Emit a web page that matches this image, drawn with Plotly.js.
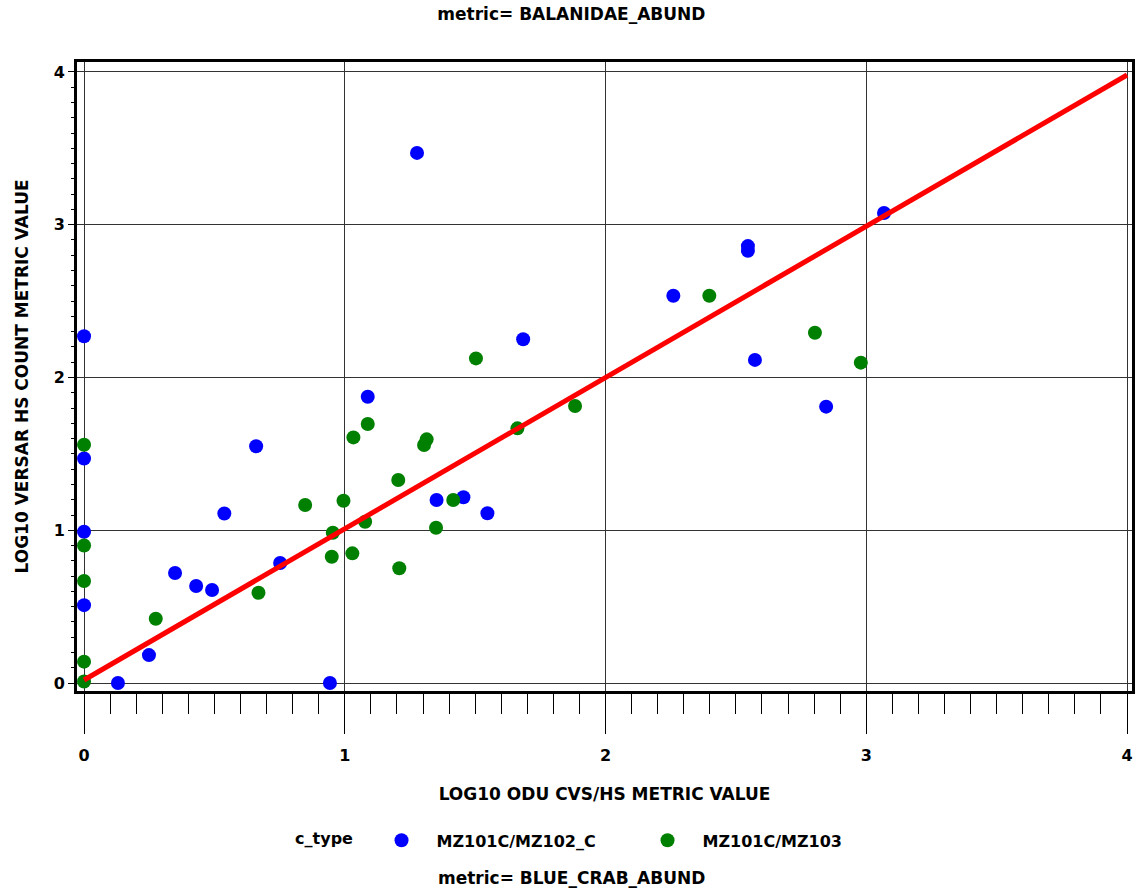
<!DOCTYPE html>
<html>
<head>
<meta charset="utf-8">
<script src="https://cdn.plot.ly/plotly-3.0.1.min.js"></script>
<style>html,body{margin:0;padding:0;background:#fff;}#chart{width:1136px;height:894px;}</style>
</head>
<body>
<div id="chart"></div>
<script>
// MZ101C/MZ102_C (blue)
const blueX = [1.277, 3.068, 2.546, 2.546, 2.26, 0, 1.684, 2.573, 1.088, 2.846, 0.66, 0, 0.538, 1.352, 1.455, 1.547, 0, 0.752, 0.349, 0.43, 0.491, 0, 0.249, 0.13, 0.943];
const blueY = [3.47, 3.077, 2.86, 2.83, 2.535, 2.27, 2.25, 2.115, 1.874, 1.809, 1.55, 1.47, 1.11, 1.198, 1.216, 1.111, 0.99, 0.786, 0.72, 0.635, 0.609, 0.51, 0.183, 0.0, 0.0];
// MZ101C/MZ103 (green)
const greenX = [2.398, 2.803, 2.979, 1.503, 1.883, 1.088, 1.662, 1.033, 1.314, 1.304, 0, 1.205, 0.848, 0.995, 1.416, 1.078, 1.35, 0.954, 0, 1.029, 0.95, 1.209, 0, 0.669, 0.275, 0, 0];
const greenY = [2.535, 2.293, 2.097, 2.125, 1.813, 1.696, 1.667, 1.608, 1.595, 1.558, 1.56, 1.329, 1.165, 1.193, 1.198, 1.056, 1.017, 0.984, 0.90, 0.849, 0.827, 0.751, 0.668, 0.591, 0.421, 0.14, 0.01];
// fitted line
const lineX = [0, 4];
const lineY = [0.02, 3.98];
const seriesNames = ['MZ101C/MZ102_C', 'MZ101C/MZ103'];
const tickVals = [0, 1, 2, 3, 4];
const tickText = ['0', '1', '2', '3', '4'];

const F = 'DejaVu Sans, Liberation Sans, sans-serif';
const boldFont = (s) => ({family: F, size: s, color: '#000', weight: 'bold'});

const traces = [
  {x: blueX, y: blueY, type: 'scatter', mode: 'markers', name: seriesNames[0],
   marker: {color: '#0000FF', size: 14, line: {width: 0}}},
  {x: greenX, y: greenY, type: 'scatter', mode: 'markers', name: seriesNames[1],
   marker: {color: '#008000', size: 14, line: {width: 0}}},
  {x: lineX, y: lineY, type: 'scatter', mode: 'lines', showlegend: false,
   line: {color: '#FF0000', width: 5}}
];

const layout = {
  width: 1136, height: 894,
  margin: {l: 77, r: 4, t: 62, b: 203},
  paper_bgcolor: '#fff', plot_bgcolor: '#fff',
  font: boldFont(16),
  title: {text: 'metric= BALANIDAE_ABUND', font: boldFont(17), xref: 'container', x: 0.503, xanchor: 'center', yref: 'container', y: 0.984, yanchor: 'middle'},
  xaxis: {
    range: [-0.027, 4.019], tickvals: tickVals, ticktext: tickText,
    ticks: 'outside', ticklen: 40, tickwidth: 1, tickcolor: '#000', ticklabelstandoff: 8,
    showgrid: true, gridcolor: '#333', gridwidth: 1, zeroline: false,
    showline: true, mirror: true, linewidth: 3, linecolor: '#000',
    minor: {dtick: 0.1, tick0: 0, ticks: 'outside', ticklen: 20, tickwidth: 1, tickcolor: '#000', showgrid: false},
    tickfont: boldFont(16),
    title: {text: 'LOG10 ODU CVS/HS METRIC VALUE', font: boldFont(17), standoff: 24}
  },
  yaxis: {
    range: [-0.052, 4.065], tickvals: tickVals, ticktext: tickText,
    ticks: 'outside', ticklen: 6, tickwidth: 1, tickcolor: '#000',
    showgrid: true, gridcolor: '#333', gridwidth: 1, zeroline: false,
    showline: true, mirror: true, linewidth: 3, linecolor: '#000',
    minor: {dtick: 0.1, tick0: 0, ticks: 'outside', ticklen: 3, tickwidth: 1, tickcolor: '#000', showgrid: false},
    tickfont: boldFont(16),
    title: {text: 'LOG10 VERSAR HS COUNT METRIC VALUE', font: boldFont(17), standoff: 21}
  },
  showlegend: true,
  legend: {orientation: 'h', xref: 'container', yref: 'container', x: 0.258, xanchor: 'left', y: 0.06, yanchor: 'middle',
    title: {text: 'c_type ', font: boldFont(16)}, font: boldFont(16), itemwidth: 60, entrywidth: 191, bgcolor: 'rgba(0,0,0,0)'},
  annotations: [
    {text: 'metric= BLUE_CRAB_ABUND', xref: 'paper', yref: 'paper', x: 0.469, y: -0.297, xanchor: 'center', yanchor: 'middle', showarrow: false, font: boldFont(17)}
  ]
};

Plotly.newPlot('chart', traces, layout, {displayModeBar: false, staticPlot: true});
</script>
</body>
</html>
